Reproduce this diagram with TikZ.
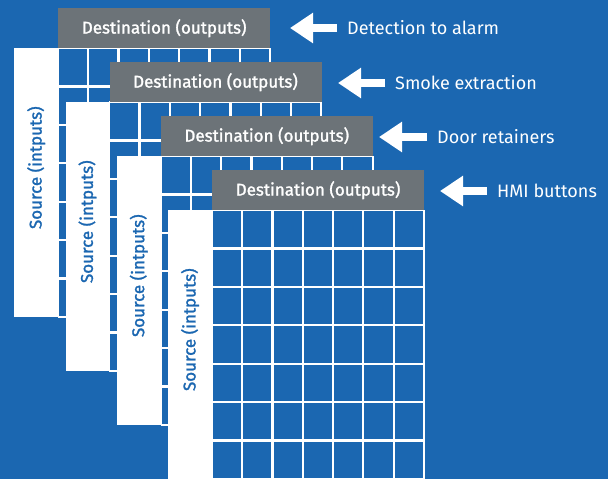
\documentclass[tikz,border=0pt]{standalone}
\usepackage{fontspec}
\setmainfont{Fira Sans}
\newfontfamily\semibold{Fira Sans}[FakeBold=1.5]
\usetikzlibrary{positioning, arrows.meta}
\definecolor{bgblue}{RGB}{27,103,177}
\definecolor{destgray}{RGB}{108,115,120}
\tikzset{
    destbox/.style={fill=destgray, text=white, font=\fontsize{17}{20}\selectfont\semibold,
        anchor=north west, minimum width=212, minimum height=40, inner sep=0},
    srcbar/.style={fill=white, anchor=north west, minimum width=44, minimum height=269, inner sep=0},
    srctext/.style={rotate=90, text=bgblue, font=\fontsize{17}{20}\selectfont\semibold},
    gridline/.style={white, line width=2.2},
    sidelabel/.style={anchor=west, text=white, font=\fontsize{18}{21}\selectfont, inner xsep=10, inner ysep=0},
    bigarrow/.style={white, line width=8, -{Triangle[length=23pt, width=29pt]}}
}

\begin{document}
\begin{tikzpicture}[x=1pt, y=-1pt]
    \fill[bgblue] (0,0) rectangle (608,479);
    \useasboundingbox (0,0) rectangle (608,479);

    % the four matrices, back to front
    \foreach \k in {0,...,3} {
        \pgfmathsetmacro{\gx}{58+51.3*\k}
        \pgfmathsetmacro{\gy}{8+54*\k}
        \node[srcbar] (src\k) at (\gx-44, \gy+40) {};
        \fill[bgblue] (\gx,\gy+40) rectangle ++(212,269);
        \foreach \i in {0,...,7}
            \draw[gridline] (\gx+\i*212/7, \gy+40) -- ++(0,269);
        \foreach \j in {0,...,7}
            \draw[gridline] (\gx, \gy+40+\j*269/7) -- ++(212,0);
        \node[destbox] (dest\k) at (\gx,\gy) {Destination (outputs)};
        \node[srctext] (srctxt\k) at ([yshift=15pt]src\k.center) {Source (intputs)};
    }

    \node[sidelabel] (alarm) at (337,28) {Detection to alarm};
    \node[sidelabel] (smoke) at (385,83) {Smoke extraction};
    \node[sidelabel] (door) at (427,137) {Door retainers};
    \node[sidelabel] (hmi) at (487,191) {HMI buttons};

    \coordinate (tip0) at (290,28);
    \coordinate (tip1) at (338,83);
    \coordinate (tip2) at (379,137);
    \coordinate (tip3) at (440,191);

    \draw[bigarrow] (alarm.west) -- (tip0);
    \draw[bigarrow] (smoke.west) -- (tip1);
    \draw[bigarrow] (door.west) -- (tip2);
    \draw[bigarrow] (hmi.west) -- (tip3);
\end{tikzpicture}
\end{document}
